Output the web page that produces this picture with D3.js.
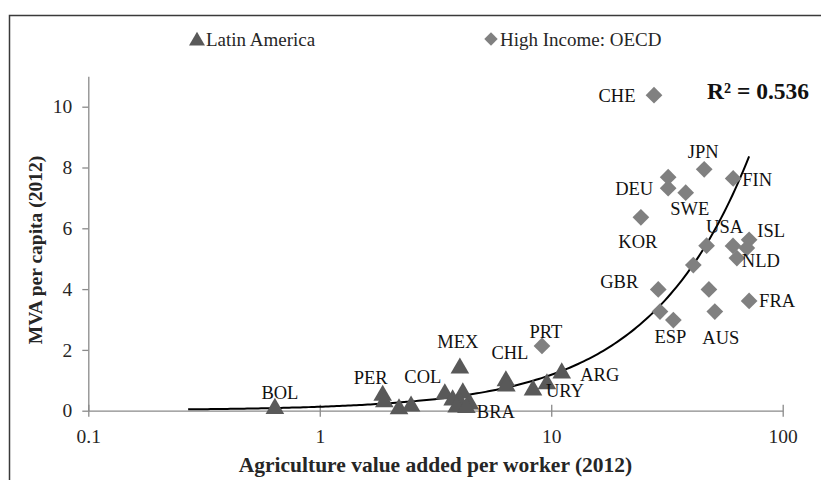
<!DOCTYPE html>
<html>
<head>
<meta charset="utf-8">
<script src="https://cdn.jsdelivr.net/npm/d3@7"></script>
<style>
  body { margin: 0; background: #fff; }
  text { font-family: "Liberation Serif", serif; }
</style>
</head>
<body>
<div id="chart"></div>
<script>
// Latin America (triangles): agriculture VA per worker, MVA per capita, 2012
const latamNames = ['BOL', 'PER', '', '', '', 'COL', 'MEX', '', 'BRA', '', '', '', '', 'CHL', '', '', 'URY', 'ARG'];
const latamAgri = [0.64, 1.87, 1.90, 2.20, 2.48, 3.47, 4.03, 4.15, 4.45, 3.75, 4.05, 3.90, 4.30, 6.37, 6.40, 8.34, 9.58, 11.1];
const latamMva = [0.07, 0.50, 0.29, 0.06, 0.15, 0.55, 1.40, 0.58, 0.22, 0.35, 0.25, 0.12, 0.10, 0.98, 0.81, 0.68, 0.88, 1.24];

// High Income: OECD (diamonds)
const oecdNames = ['CHE', 'JPN', 'FIN', '', 'DEU', 'SWE', 'KOR', 'USA', '', 'ISL', '', '', 'NLD', 'GBR', '', 'ESP', '', 'AUS', 'FRA', 'PRT'];
const oecdAgri = [27.8, 45.8, 61.1, 32.0, 32.0, 38.1, 24.4, 46.9, 41.1, 71.6, 61.0, 70.0, 63.4, 29.0, 29.5, 33.7, 48.0, 50.9, 71.6, 9.12];
const oecdMva = [10.38, 7.94, 7.64, 7.68, 7.32, 7.17, 6.36, 5.43, 4.79, 5.62, 5.42, 5.35, 5.02, 3.99, 3.26, 2.98, 3.99, 3.26, 3.61, 2.13];

// fitted trend line (linear fit, shown on the log axis)
const trendSlope = 0.1167;
const trendIntercept = 0.013;
const trendRange = [0.27, 71.6];
const rSquared = '0.536';

const xTicks = [0.1, 1, 10, 100];
const yTicks = [0, 2, 4, 6, 8, 10];
const seriesNames = ['Latin America', 'High Income: OECD'];

const width = 821;
const height = 480;

const svg = d3.select('#chart').append('svg')
  .attr('width', width)
  .attr('height', height);

// outer frame (runs off the right and bottom edges)
svg.append('rect')
  .attr('x', 9.5).attr('y', 15.5)
  .attr('width', 900).attr('height', 520)
  .attr('fill', 'none')
  .attr('stroke', '#3a3a3a')
  .attr('stroke-width', 1.5);

const x = d3.scaleLog().domain([0.1, 100]).range([88.3, 782.7]);
const y = d3.scaleLinear().domain([0, 11]).range([410.7, 76.3]);

const axisColor = '#8a8a8a';

// y axis
const gy = svg.append('g')
  .attr('transform', `translate(${x.range()[0]},0)`)
  .call(d3.axisLeft(y).tickValues(yTicks).tickSize(6).tickSizeOuter(0).tickPadding(10));
gy.select('.domain').attr('stroke', axisColor).attr('stroke-width', 1.3);
gy.selectAll('.tick line').attr('stroke', axisColor).attr('stroke-width', 1.3);
gy.selectAll('.tick text')
  .attr('fill', '#262626')
  .style('font-family', '"Liberation Serif", serif')
  .style('font-size', '19.5px');

// x axis, ticks cross the line
const gx = svg.append('g')
  .attr('transform', `translate(0,${y(0)})`)
  .call(d3.axisBottom(x).tickValues(xTicks).tickFormat(d3.format('~g')).tickSizeOuter(0));
gx.select('.domain').attr('stroke', axisColor).attr('stroke-width', 1.3);
gx.selectAll('.tick line').attr('y1', -6).attr('y2', 6).attr('stroke', axisColor).attr('stroke-width', 1.3);
gx.selectAll('.tick text')
  .attr('y', 32.5).attr('dy', 0)
  .attr('fill', '#262626')
  .style('font-family', '"Liberation Serif", serif')
  .style('font-size', '19.5px');

// axis titles
svg.append('text')
  .attr('transform', 'translate(42,250) rotate(-90)')
  .attr('text-anchor', 'middle')
  .attr('font-weight', 'bold')
  .attr('font-size', 19.5)
  .attr('fill', '#262626')
  .text('MVA per capita (2012)');

svg.append('text')
  .attr('x', (x.range()[0] + x.range()[1]) / 2)
  .attr('y', 472)
  .attr('text-anchor', 'middle')
  .attr('font-weight', 'bold')
  .attr('font-size', 21.5)
  .attr('fill', '#262626')
  .text('Agriculture value added per worker (2012)');

// trend line
const trendX = d3.range(0, 201).map(i => trendRange[0] * Math.pow(trendRange[1] / trendRange[0], i / 200));
const line = d3.line()
  .x(d => x(d))
  .y(d => y(trendIntercept + trendSlope * d));
svg.append('path')
  .datum(trendX)
  .attr('d', line)
  .attr('fill', 'none')
  .attr('stroke', '#000')
  .attr('stroke-width', 2);

// markers
const triangle = d3.symbol(d3.symbolTriangle, 150);
const diamond = d3.symbol(d3.symbolSquare, 140);
const latamColor = '#595959';
const oecdColor = '#808080';

svg.append('g')
  .selectAll('path')
  .data(latamAgri.map((v, i) => [v, latamMva[i]]))
  .join('path')
  .attr('d', triangle)
  .attr('transform', d => `translate(${x(d[0])},${y(d[1])})`)
  .attr('fill', latamColor);

svg.append('g')
  .selectAll('path')
  .data(oecdAgri.map((v, i) => [v, oecdMva[i]]))
  .join('path')
  .attr('d', diamond)
  .attr('transform', d => `translate(${x(d[0])},${y(d[1])}) rotate(45)`)
  .attr('fill', oecdColor);

// data labels: offset of the label centre from its marker
const labelOffset = {
  BOL: [5, -16], PER: [-12, -18], COL: [-22, -17], MEX: [-2, -26], BRA: [26, 8],
  CHL: [4, -28], URY: [18, 7], ARG: [38, 2],
  CHE: [-37, 1], JPN: [-1, -17], FIN: [24, 2], DEU: [-34, 1], SWE: [4, 16],
  KOR: [-3, 25], USA: [18, -19], ISL: [22, -9], NLD: [24, 3], GBR: [-39, -7],
  ESP: [-3, 17], AUS: [6, 26], FRA: [28, 0], PRT: [4, -14]
};
const labels = [];
latamNames.forEach((n, i) => { if (n) labels.push([n, latamAgri[i], latamMva[i]]); });
oecdNames.forEach((n, i) => { if (n) labels.push([n, oecdAgri[i], oecdMva[i]]); });

svg.append('g')
  .selectAll('text')
  .data(labels)
  .join('text')
  .attr('x', d => x(d[1]) + labelOffset[d[0]][0])
  .attr('y', d => y(d[2]) + labelOffset[d[0]][1] + 6)
  .attr('text-anchor', 'middle')
  .attr('font-size', 18.5)
  .attr('fill', '#111')
  .text(d => d[0]);

// R squared
svg.append('text')
  .attr('x', 707)
  .attr('y', 98.5)
  .attr('font-weight', 'bold')
  .attr('font-size', 23.5)
  .attr('fill', '#111')
  .text(`R² = ${rSquared}`);

// legend
const legend = svg.append('g');
legend.append('path')
  .attr('d', d3.symbol(d3.symbolTriangle, 110))
  .attr('transform', 'translate(197,41)')
  .attr('fill', latamColor);
legend.append('text')
  .attr('x', 206).attr('y', 46)
  .attr('font-size', 19)
  .attr('fill', '#262626')
  .text(seriesNames[0]);
legend.append('path')
  .attr('d', d3.symbol(d3.symbolSquare, 90))
  .attr('transform', 'translate(491,39) rotate(45)')
  .attr('fill', oecdColor);
legend.append('text')
  .attr('x', 500).attr('y', 46)
  .attr('font-size', 19)
  .attr('fill', '#262626')
  .text(seriesNames[1]);
</script>
</body>
</html>
